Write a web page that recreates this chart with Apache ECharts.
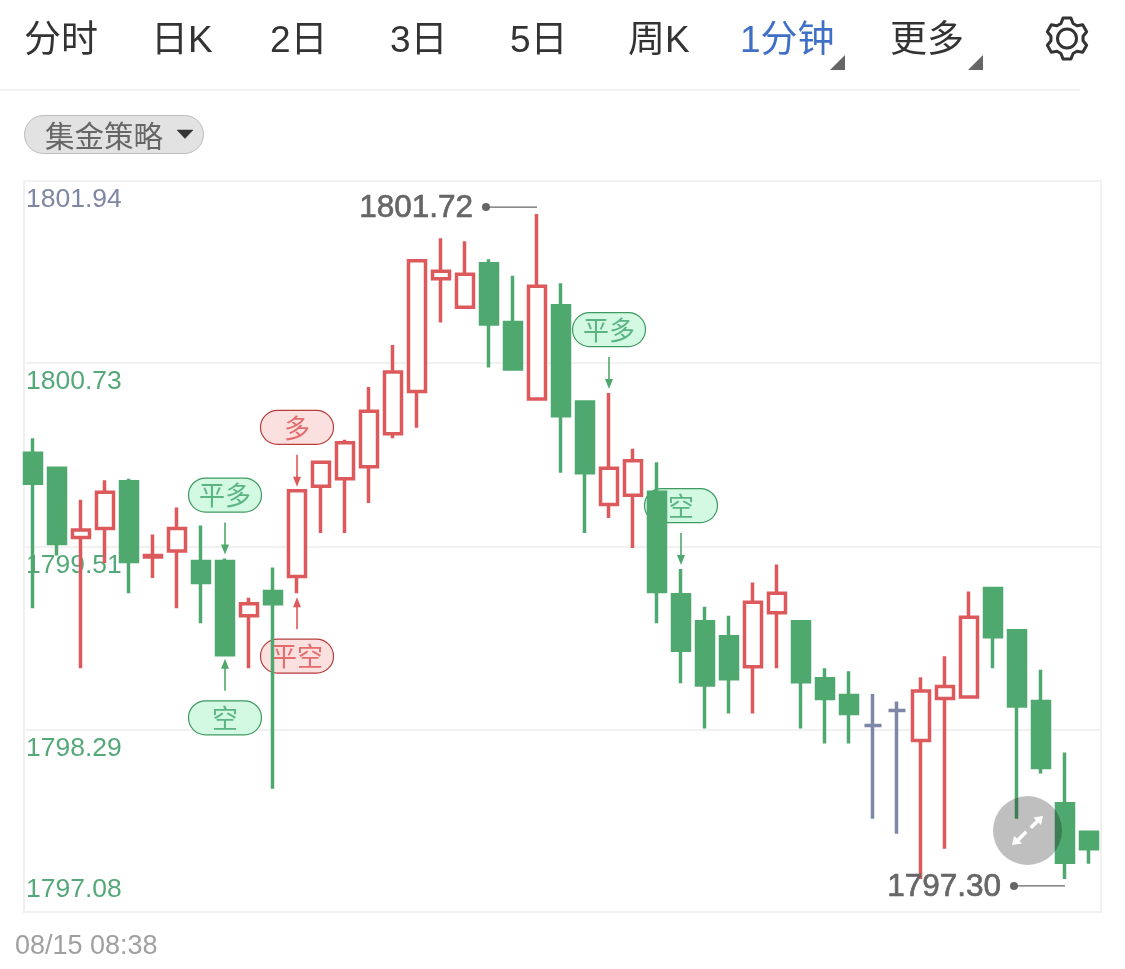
<!DOCTYPE html>
<html><head><meta charset="utf-8">
<style>html,body{margin:0;padding:0;background:#fff}#c{width:1125px;height:969px}</style>
<script src="https://cdn.jsdelivr.net/npm/echarts@6/dist/echarts.min.js"></script>
</head><body><div id="c"></div>
<script>
// ---- data ----
const times = ['08:38','08:39','08:40','08:41','08:42','08:43','08:44','08:45','08:46','08:47','08:48','08:49','08:50','08:51','08:52','08:53','08:54','08:55','08:56','08:57','08:58','08:59','09:00','09:01','09:02','09:03','09:04','09:05','09:06','09:07','09:08','09:09','09:10','09:11','09:12','09:13','09:14','09:15','09:16','09:17','09:18','09:19','09:20','09:21','09:22'];
const opens = [1800.13,1800.03,1799.57,1799.63,1799.94,1799.44,1799.48,1799.41,1799.41,1799.05,1799.21,1799.31,1799.91,1799.96,1800.04,1800.26,1800.54,1801.29,1801.10,1801.39,1801.00,1800.49,1801.11,1800.47,1799.79,1799.85,1799.87,1799.19,1799.01,1798.91,1798.71,1799.07,1799.01,1798.63,1798.52,1798.32,1798.42,1798.22,1798.50,1798.51,1799.23,1798.95,1798.48,1797.80,1797.61];
const closes = [1799.93,1799.53,1799.62,1799.87,1799.41,1799.45,1799.63,1799.27,1798.79,1799.13,1799.13,1799.88,1800.07,1800.20,1800.41,1800.67,1801.41,1801.34,1801.32,1800.99,1800.69,1801.24,1800.38,1800.00,1800.03,1800.08,1799.21,1798.82,1798.59,1798.63,1799.14,1799.20,1798.61,1798.50,1798.40,1798.32,1798.42,1798.55,1798.58,1799.04,1798.91,1798.45,1798.04,1797.41,1797.50];
const lows = [1799.10,1799.45,1798.70,1799.40,1799.20,1799.30,1799.10,1799.00,1798.79,1798.70,1797.90,1799.20,1799.60,1799.60,1799.80,1800.23,1800.30,1801.00,1801.10,1800.70,1800.69,1800.49,1800.00,1799.60,1799.70,1799.50,1799.00,1798.60,1798.30,1798.40,1798.40,1798.70,1798.30,1798.20,1798.20,1797.70,1797.60,1797.30,1797.50,1798.50,1798.70,1797.70,1798.00,1797.30,1797.40];
const highs = [1800.23,1800.03,1799.82,1799.95,1799.96,1799.59,1799.77,1799.65,1799.43,1799.17,1799.37,1799.88,1800.08,1800.22,1800.57,1800.85,1801.41,1801.56,1801.54,1801.42,1801.31,1801.72,1801.26,1800.47,1800.53,1800.16,1800.07,1799.36,1799.11,1799.05,1799.27,1799.39,1799.01,1798.70,1798.68,1798.53,1798.48,1798.64,1798.78,1799.21,1799.23,1798.95,1798.69,1798.14,1797.61];
const yTicks = [1797.08,1798.29,1799.51,1800.73,1801.94];
const navLabels = ['分时','日K','2日','3日','5日','周K','1分钟','更多'];
const activeNav = '1分钟';
const strategyLabel = '集金策略';
const footerLabel = '08/15 08:38';
const signalBars = [8,8,11,11,24,27];
const signalLabels = ['平多','空','多','平空','平多','空'];
const signalSides = ['above','below','above','below','above','above'];
const signalKinds = ['green','green','red','red','green','green'];
const extremeBars = [21,43];
const extremeLabels = ['1801.72','1797.30'];
const extremeSides = ['above','below'];

// ---- style ----
const RED='#dc5a5c', GREEN='#4fa96f', DOJI='#7f87a8', GREY='#666666';
const LATIN='"Liberation Sans","Noto Sans CJK SC",sans-serif';
const KIND={green:{fill:'#d3f9e3',stroke:'#3f9a62',text:'#5ab583',arrow:'#4fa96f'},
            red:{fill:'#fbe0e0',stroke:'#b83c3c',text:'#e56c6c',arrow:'#dc5a5c'}};
const navX=[24,151,270,390,510,628,740,890];

const candleData = times.map((t,i)=>[opens[i],closes[i],lows[i],highs[i]]);
const signalData = signalBars.map((b,i)=>[b, signalSides[i]==='above'?highs[b]:lows[b], i]);
const extremeData = extremeBars.map((b,i)=>[b, extremeSides[i]==='above'?highs[b]:lows[b], i]);

function renderSignal(params,api){
  const i=api.value(2), p=api.coord([api.value(0),api.value(1)]), x=p[0];
  const up=signalSides[i]==='above', k=KIND[signalKinds[i]], dir=up?-1:1;
  const tip=p[1]+dir*4, tail=tip+dir*32, near=tip+dir*42, far=near+dir*34.5;
  const top=Math.min(near,far);
  return {type:'group',children:[
    {type:'line',shape:{x1:x,y1:tail,x2:x,y2:tip+dir*8},style:{stroke:k.arrow,lineWidth:1.6}},
    {type:'polygon',shape:{points:[[x,tip],[x-4,tip+dir*10],[x+4,tip+dir*10]]},style:{fill:k.arrow}},
    {type:'rect',shape:{x:x-36.5,y:top,width:73,height:34,r:17},style:{fill:k.fill,stroke:k.stroke,lineWidth:1.2}},
    {type:'text',style:{text:signalLabels[i],x:x,y:top+20,align:'center',verticalAlign:'middle',font:'26px '+LATIN,fill:k.text}}
  ]};
}
function renderExtreme(params,api){
  const i=api.value(2), p=api.coord([api.value(0),api.value(1)]), x=p[0];
  const y=p[1]+(extremeSides[i]==='above'?-7:7);
  return {type:'group',children:[
    {type:'line',shape:{x1:x-51,y1:y,x2:x,y2:y},style:{stroke:GREY,lineWidth:1.2}},
    {type:'circle',shape:{cx:x-51,cy:y,r:4},style:{fill:GREY}},
    {type:'text',style:{text:extremeLabels[i],x:x-64,y:y+1,align:'right',verticalAlign:'middle',font:'31.5px '+LATIN,fill:GREY,stroke:GREY,lineWidth:0.7}}
  ]};
}

// six-tooth cog outline
const gearPts=[];
for(let t=0;t<6;t++){
  const a=(-90+60*t)*Math.PI/180, d=Math.PI/180;
  [[16.2,-22],[20.8,-11],[20.8,11],[16.2,22]].forEach(([r,o])=>{
    gearPts.push([1067+r*Math.cos(a+o*d),38.5+r*Math.sin(a+o*d)]);
  });
}

const graphics=[
  ...navLabels.map((t,i)=>({type:'text',x:navX[i],y:42,style:{text:t,font:'37px '+LATIN,fill:t===activeNav?'#3f70c6':'#333333',verticalAlign:'middle'}})),
  {type:'polygon',shape:{points:[[845,55],[845,70],[830,70]]},style:{fill:'#666'}},
  {type:'polygon',shape:{points:[[983,55],[983,70],[968,70]]},style:{fill:'#666'}},
  {type:'polygon',shape:{points:gearPts},style:{fill:null,stroke:'#333',lineWidth:3,lineJoin:'round'}},
  {type:'circle',shape:{cx:1067,cy:38.5,r:9.5},style:{fill:null,stroke:'#333',lineWidth:3}},
  {type:'line',shape:{x1:0,y1:90,x2:1080,y2:90},style:{stroke:'#f2f2f2',lineWidth:2}},
  {type:'rect',shape:{x:24.5,y:115.5,width:179,height:38,r:19},style:{fill:'#e2e2e2',stroke:'#bdbdbd',lineWidth:1}},
  {type:'text',x:45,y:139,style:{text:strategyLabel,font:'29.5px '+LATIN,fill:'#666',verticalAlign:'middle'}},
  {type:'polygon',shape:{points:[[177,130],[193,130],[185,138.5]]},style:{fill:'#333',stroke:'#333',lineWidth:0.5,lineJoin:'round'}},
  {type:'text',x:15,y:947,style:{text:footerLabel,font:'27px '+LATIN,fill:'#a0a0a0',verticalAlign:'middle'}},
  {type:'circle',z:100,shape:{cx:1027.5,cy:830.5,r:34.5},style:{fill:'rgba(0,0,0,0.25)'}},
  {type:'polygon',z:101,shape:{points:[[1012,845],[1014,836],[1017,838.5],[1025,830.5],[1027.5,833],[1019.5,841],[1022,843.5]]},style:{fill:'#fff'}},
  {type:'polygon',z:101,shape:{points:[[1043,816],[1041,825],[1038.5,822.5],[1032,829],[1029.5,826.5],[1036,820],[1033.5,817.5]]},style:{fill:'#fff'}}
];

const chart=echarts.init(document.getElementById('c'),null,{renderer:'canvas'});
chart.setOption({
  animation:false,
  backgroundColor:'#fff',
  graphic:graphics,
  grid:[
    {left:21,top:181,width:1080,height:731,containLabel:false},
    {left:24,top:181,width:1077,height:731,show:true,borderColor:'#f0f0f0',borderWidth:2,backgroundColor:'transparent'}
  ],
  xAxis:[
    {type:'category',data:times,gridIndex:0,show:false},
    {type:'category',data:times,gridIndex:1,show:false}
  ],
  yAxis:[
    {type:'value',gridIndex:0,min:yTicks[0],max:yTicks[4],show:false,scale:true,splitLine:{show:false}},
    {type:'value',gridIndex:1,min:yTicks[0],max:yTicks[4],scale:true,
     axisLine:{show:false},
     axisTick:{show:false,customValues:yTicks},
     splitLine:{show:true,lineStyle:{color:'#f1f1f1',width:2}},
     axisLabel:{show:true,inside:true,margin:2,customValues:yTicks,fontFamily:LATIN,fontSize:26.5,lineHeight:24,
       padding:[7,0,10,0],verticalAlign:'top',verticalAlignMinLabel:'bottom',
       formatter:v=>(+v).toFixed(2),
       color:v=>(+v)===yTicks[4]?'#7f86a3':'#55a878'}}
  ],
  series:[
    {type:'custom',name:'signals',xAxisIndex:0,yAxisIndex:0,z:1,clip:false,data:signalData,renderItem:renderSignal,silent:true},
    {type:'candlestick',name:'K',xAxisIndex:0,yAxisIndex:0,z:2,barWidth:17.5,clip:true,data:candleData,
     itemStyle:{color:'#ffffff',color0:GREEN,borderColor:RED,borderColor0:GREEN,borderColorDoji:DOJI,borderWidth:3.5}},
    {type:'custom',name:'extremes',xAxisIndex:0,yAxisIndex:0,z:3,clip:false,data:extremeData,renderItem:renderExtreme,silent:true}
  ]
});
</script></body></html>
